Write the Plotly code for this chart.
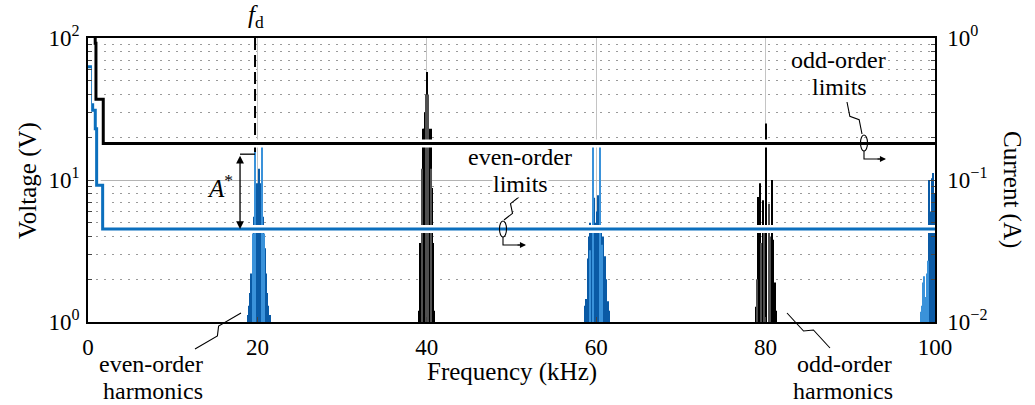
import math
import plotly.graph_objects as go

# ---------------- data ----------------
x_tickvals = [0, 20, 40, 60, 80, 100]
v_tickvals = [1, 10, 100]
v_ticktext = ["10<sup>0</sup>", "10<sup>1</sup>", "10<sup>2</sup>"]
i_tickvals = [0.01, 0.1, 1]
i_ticktext = ["10<sup>\u22122</sup>", "10<sup>\u22121</sup>", "10<sup>0</sup>"]

# even-order harmonics (blue) - main bars (kHz, V)
even_f = [18.85, 19.0, 19.15, 19.3, 19.45, 19.6, 19.85, 20.0, 20.15, 20.3, 20.45, 20.7, 20.85, 21.0, 21.15, 21.3, 21.45,
          58.7, 58.85, 59.0, 59.15, 59.3, 59.45, 59.8, 59.95, 60.1, 60.25, 60.6, 60.8, 61.0, 61.2, 61.4, 61.55,
          99.29, 99.45, 99.61, 99.8, 99.95]
even_v = [1.12, 1.3, 1.6, 2.2, 3.3, 5.5, 8.7, 9.5, 12.0, 9.5, 8.7, 5.5, 3.3, 2.2, 1.6, 1.3, 1.12,
          1.3, 1.45, 2.8, 4.0, 5.0, 4.5, 7.5, 5.0, 6.0, 7.8, 4.3, 4.0, 2.9, 2.0, 1.4, 1.2,
          10.0, 6.0, 10.3, 11.2, 8.0]
# even-order harmonics (blue) - lighter bars
even2_f = [19.52, 19.73, 20.57, 20.78,
           59.22, 59.62, 60.48, 60.7,
           98.3, 98.5, 98.62, 98.7, 98.82, 98.94, 99.1, 99.21]
even2_v = [4.2, 17.5, 17.5, 4.2,
           3.2, 17.5, 17.5, 3.5,
           1.18, 1.3, 1.9, 2.1, 1.5, 1.43, 2.2, 2.7]

# odd-order harmonics (black) - main bars
odd_f = [39.1, 39.25, 39.38, 39.53, 39.68, 39.82, 40.0, 40.18, 40.32, 40.47, 40.62, 40.75, 40.9,
         78.83, 79.14, 79.34, 79.66, 80.05, 80.72, 80.91, 81.07, 81.23]
odd_v = [1.2, 3.6, 8.8, 23, 23, 30, 57.6, 30, 23, 23, 8.8, 3.6, 1.2,
         1.28, 7.6, 9.5, 7.2, 25, 10, 3.8, 1.9, 1.2]
# odd-order harmonics - grey bars
odd2_f = [39.45, 39.91, 40.09, 40.55, 78.98, 79.49, 79.85, 80.37, 80.52]
odd2_v = [12, 40, 40, 12, 2.0, 3.6, 4.5, 6.8, 4.0]

# limits (current, A) - step lines
even_lim_f = [0, 0.55, 0.86, 1.02, 1.73, 100]
even_lim_i = [0.627, 0.31, 0.23, 0.092, 0.0452, 0.0452]
odd_lim_f = [0.6, 0.85, 0.94, 1.8, 100]
odd_lim_i = [1.5, 0.92, 0.37, 0.181, 0.181]

f_d = 19.72          # kHz
A_top_v = 15.2       # V, top of A* arrow
A_arrow_f = 17.95    # kHz
A_bottom_v = 4.52    # V (even-order limit)

# ---------------- figure ----------------
FONT = "Liberation Serif, Times New Roman, Times, serif"
W, H = 1035, 405
L, R, T, B = 88, 100, 38, 83
PW, PH = W - L - R, H - T - B


def P(px, py):
    return (px - L) / PW, (H - B - py) / PH


BLUE = "#0b6fbd"
BLUE_D = "#0a5aa5"
BLUE_L = "#3a92da"

fig = go.Figure()

bw = 0.13
fig.add_trace(go.Bar(x=even_f, y=even_v, width=bw, marker=dict(color=BLUE_D, line=dict(width=0)), yaxis="y"))
fig.add_trace(go.Bar(x=even2_f, y=even2_v, width=bw, marker=dict(color=BLUE_L, line=dict(width=0)), yaxis="y"))
fig.add_trace(go.Bar(x=odd_f, y=odd_v, width=bw, marker=dict(color="#000000", line=dict(width=0)), yaxis="y"))
fig.add_trace(go.Bar(x=odd2_f, y=odd2_v, width=bw, marker=dict(color="#505050", line=dict(width=0)), yaxis="y"))

# f_d dashed line and A* bracket
fig.add_trace(go.Scatter(x=[f_d, f_d], y=[100, A_top_v], mode="lines",
                         line=dict(color="black", width=2, dash="12px,5px"), yaxis="y"))
fig.add_trace(go.Scatter(x=[A_arrow_f, f_d], y=[A_top_v, A_top_v], mode="lines",
                         line=dict(color="black", width=1.3), yaxis="y"))

# limit lines with white halo (on current axis)
for fx, iy, col in [(even_lim_f, even_lim_i, BLUE), (odd_lim_f, odd_lim_i, "black")]:
    fig.add_trace(go.Scatter(x=fx, y=iy, mode="lines", line=dict(color="white", width=8, shape="hv"), yaxis="y2"))
    fig.add_trace(go.Scatter(x=fx, y=iy, mode="lines", line=dict(color=col, width=3, shape="hv"), yaxis="y2"))

minor_v = [m * 10 ** k for k in range(0, 2) for m in range(2, 10)]
minor_i = [m * 10 ** k for k in range(-2, 0) for m in range(2, 10)]

fig.update_layout(
    width=W, height=H,
    margin=dict(l=L, r=R, t=T, b=B),
    paper_bgcolor="white", plot_bgcolor="white",
    showlegend=False, barmode="overlay",
    font=dict(family=FONT, size=22, color="black"),
    xaxis=dict(range=[0, 100], tickvals=x_tickvals, ticks="inside", ticklen=5,
               showgrid=True, gridcolor="#c4c4c4", gridwidth=1,
               showline=True, linecolor="black", linewidth=1.5, mirror=True,
               zeroline=False, tickfont=dict(family=FONT, size=23), ticklabelstandoff=4),
    yaxis=dict(type="log", range=[0, 2], tickvals=v_tickvals, ticktext=v_ticktext,
               ticks="inside", ticklen=6, showgrid=True, gridcolor="#b4b4b4", gridwidth=1,
               minor=dict(tickvals=minor_v, ticks="inside", ticklen=4, showgrid=True,
                          gridcolor="#9a9a9a", griddash="2px,6px", gridwidth=1),
               showline=True, linecolor="black", linewidth=1.5, zeroline=False,
               tickfont=dict(family=FONT, size=23), ticklabelstandoff=2),
    yaxis2=dict(type="log", range=[-2, 0], overlaying="y", side="right",
                tickvals=i_tickvals, ticktext=i_ticktext, ticks="inside", ticklen=6,
                minor=dict(tickvals=minor_i, ticks="inside", ticklen=4, showgrid=False),
                showgrid=False, showline=True, linecolor="black", linewidth=1.5, zeroline=False,
                tickfont=dict(family=FONT, size=23), ticklabelstandoff=6),
)

ann = []


def txt(s, px, py, size=25, angle=0, bg=None):
    u, v = P(px, py)
    d = dict(text=s, x=u, y=v, xref="paper", yref="paper", showarrow=False,
             font=dict(family=FONT, size=size, color="black"), textangle=angle,
             xanchor="center", yanchor="middle")
    if bg:
        d.update(bgcolor=bg, borderpad=0)
    ann.append(d)


txt("Voltage (V)", 28, 180, angle=-90)
txt("Current (A)", 1012, 190, angle=90)
txt("Frequency (kHz)", 512, 372)
txt("<i>f</i><sub>d</sub>", 256, 16)
txt("<i>A</i><sup>*</sup>", 220, 186)
txt("even-order", 520, 157, size=24)
txt("limits", 520, 184, size=24, bg="white")
txt("odd-order", 838, 60, size=24, bg="white")
txt("limits", 839, 87, size=24, bg="white")
txt("even-order", 151, 364, size=24)
txt("harmonics", 153, 391, size=24)
txt("odd-order", 844, 364, size=24)
txt("harmonics", 843, 391, size=24)

# A* double arrow (data coordinates, log axis)
ann.append(dict(x=A_arrow_f, y=math.log10(A_bottom_v), ax=A_arrow_f, ay=math.log10(A_top_v),
                xref="x", yref="y", axref="x", ayref="y", text="", showarrow=True,
                arrowhead=2, arrowside="end+start", arrowsize=1.2, arrowwidth=1.3, arrowcolor="black",
                standoff=0, startstandoff=0))

shapes = []


def path(points, width=1.1):
    s = ""
    for i, (px, py) in enumerate(points):
        u, v = P(px, py)
        s += ("M" if i == 0 else "L") + f"{u:.5f},{v:.5f} "
    shapes.append(dict(type="path", path=s, xref="paper", yref="paper",
                       line=dict(color="black", width=width), layer="above"))


def squiggle(a, b, k=3.5):
    ax, ay = a
    bx, by = b
    dx, dy = bx - ax, by - ay
    n = math.hypot(dx, dy)
    ux, uy = dx / n, dy / n
    nx, ny = -uy, ux
    mx, my = (ax + bx) / 2, (ay + by) / 2
    p1 = (mx - ux * k + nx * k, my - uy * k + ny * k)
    p2 = (mx + ux * k - nx * k, my + uy * k - ny * k)
    path([a, p1, p2, b])


def ellipse(cx, cy, rx, ry):
    u0, v0 = P(cx - rx, cy + ry)
    u1, v1 = P(cx + rx, cy - ry)
    shapes.append(dict(type="circle", x0=u0, y0=v0, x1=u1, y1=v1, xref="paper", yref="paper",
                       line=dict(color="black", width=1.1), layer="above"))


def elbow_arrow(x, y0, y1, x1):
    path([(x, y0), (x, y1), (x1 - 2, y1)])
    u, v = P(x1, y1)
    ann.append(dict(x=u, y=v, xref="paper", yref="paper", ax=-10, ay=0, text="", showarrow=True,
                    arrowhead=2, arrowsize=1.1, arrowwidth=1.1, arrowcolor="black"))


squiggle((519, 197), (504, 220))
ellipse(503, 229, 3.5, 8)
elbow_arrow(503, 237, 245, 526)

squiggle((847, 102), (862, 134))
ellipse(864, 143, 3.5, 8)
elbow_arrow(864, 151, 159, 886)

squiggle((195, 349), (241, 313))
squiggle((787, 313), (830, 348))

fig.update_layout(annotations=ann, shapes=shapes)

fig.write_html("out.html")
